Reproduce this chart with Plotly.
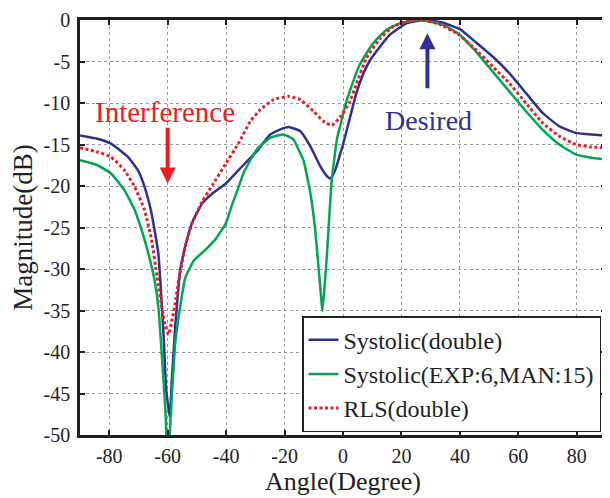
import plotly.graph_objects as go

# ---- data ----
blue_angle = [-90, -84, -79.4, -73.6, -70.2, -67.9, -65.5, -63.2, -62.5, -61.4, -60.5, -59.3,
              -58.5, -57.4, -55.7, -54.0, -51.7, -48.2, -44.7, -40.1, -35.5, -29.5, -24.9,
              -21.6, -18.6, -14.6, -11.2, -7.8, -5.5, -4.4, -3.3, -2.2, -1.0, 0.0, 2.5, 4.5,
              6.8, 9.0, 11.4, 16.0, 21.7, 28.0, 34.0, 40.0, 45.5, 51.2, 56.9, 62.6, 68.3,
              74.0, 79.7, 85.0, 90.0]
blue_db = [-13.9, -14.3, -14.9, -16.5, -18.1, -20.1, -23.3, -28.1, -31.5, -38.0, -44.5, -47.8,
           -42.9, -36.9, -30.1, -27.3, -24.5, -22.1, -20.9, -19.7, -18.0, -15.8, -13.8,
           -13.2, -12.9, -13.4, -15.2, -17.6, -18.8, -19.1, -18.6, -17.6, -16.2, -15.0, -11.6, -8.9,
           -6.6, -5.0, -3.8, -1.8, -0.4, 0.0, -0.3, -1.1, -2.7, -4.4, -6.4, -8.8, -11.2,
           -12.8, -13.6, -13.8, -13.9]

green_angle = [-90, -84, -79.4, -74.8, -71.3, -67.9, -65.5, -64.4, -63.1, -61.9, -60.8, -59.9,
               -59.3, -58.5, -57.4, -55.7, -54.0, -51.1, -47.1, -43.6, -40.1, -37.8, -35.5,
               -34.0, -29.5, -24.9, -20.3, -16.9, -14.7, -13.5, -11.2, -9.6, -8.4, -7.6, -7.07,
               -6.2, -5.4, -4.7, -3.9, -2.1, -1.0, 1.0, 2.3, 5.7, 10.3, 14.8, 19.4, 25.0, 30.0,
               35.0, 40.0, 45.5, 51.2, 56.9, 62.6, 68.3, 74.0, 79.7, 85.0, 90.0]
green_db = [-16.9, -17.5, -18.5, -20.5, -22.9, -26.5, -29.7, -31.5, -34.9, -40.9, -46.9, -54.0,
            -50.0, -44.9, -38.9, -34.5, -31.1, -29.0, -27.7, -26.4, -24.5, -22.1, -19.9,
            -18.4, -15.6, -14.2, -13.8, -14.4, -16.0, -16.9, -20.8, -25.0, -29.7, -32.9, -35.1,
            -31.7, -27.7, -23.7, -19.5, -14.4, -12.8, -10.0, -8.6, -5.4, -2.8, -1.2, -0.4, 0.0, -0.2,
            -0.7, -1.8, -3.8, -6.2, -8.6, -11.0, -13.2, -15.0, -16.2, -16.6, -16.8]

red_angle = [-90, -84, -79.4, -74.8, -71.3, -67.9, -65.5, -63.6, -61.9, -60.8, -59.7, -58.5,
             -57.4, -56.2, -54.0, -51.7, -48.2, -44.7, -40.1, -35.5, -31.7, -28.3, -23.8,
             -18.6, -14.6, -10.1, -6.7, -3.8, -1.0, 2.1, 4.5, 8.0, 12.5, 17.1, 21.7, 27.0,
             33.0, 39.8, 45.5, 51.2, 56.9, 62.6, 68.3, 74.0, 79.7, 85.0, 90.0]
red_db = [-15.4, -15.9, -16.5, -18.1, -20.1, -22.9, -26.5, -31.0, -34.9, -36.9, -37.9, -36.1,
          -34.1, -31.3, -27.3, -24.5, -21.9, -19.9, -17.3, -14.7, -12.2, -10.8, -9.6,
          -9.2, -9.6, -11.0, -12.2, -12.7, -11.7, -10.0, -7.8, -4.6, -2.3, -0.8, -0.2, 0.0,
          -0.5, -1.8, -3.6, -5.6, -7.6, -10.0, -12.4, -14.0, -15.0, -15.3, -15.4]

series_names = ["Systolic(double)", "Systolic(EXP:6,MAN:15)", "RLS(double)"]
x_ticks = [-80, -60, -40, -20, 0, 20, 40, 60, 80]
y_ticks = [-50, -45, -40, -35, -30, -25, -20, -15, -10, -5, 0]

BLUE = "#2E3192"
GREEN = "#00A651"
RED = "#ED1C24"
INK = "#231F20"
FONT = "Liberation Serif"

fig = go.Figure()
fig.add_trace(go.Scatter(x=blue_angle, y=blue_db, mode="lines", name=series_names[0],
                         line=dict(color=BLUE, width=2.5, shape="spline", smoothing=0.4)))
fig.add_trace(go.Scatter(x=green_angle, y=green_db, mode="lines", name=series_names[1],
                         line=dict(color=GREEN, width=2.5, shape="spline", smoothing=0.4)))
fig.add_trace(go.Scatter(x=red_angle, y=red_db, mode="lines", name=series_names[2],
                         line=dict(color=RED, width=3, dash="3px,2.5px", shape="spline", smoothing=0.4)))

axis_common = dict(
    showline=True, linecolor=INK, linewidth=2.5, mirror="ticks",
    ticks="inside", ticklen=5, tickwidth=1.5, tickcolor=INK,
    showgrid=True, gridcolor="#9A9A9A", gridwidth=1, griddash="dot",
    zeroline=False, tickfont=dict(family=FONT, size=20, color=INK),
    automargin=False,
)

fig.update_xaxes(range=[-90, 90], tickvals=x_ticks, ticktext=[str(v) for v in x_ticks],
                 title=dict(text="Angle(Degree)", font=dict(family=FONT, size=26, color=INK), standoff=2),
                 ticklabelstandoff=1, **axis_common)
fig.update_yaxes(range=[-50, 0], tickvals=y_ticks, ticktext=[str(v) for v in y_ticks],
                 title=dict(text="Magnitude(dB)", font=dict(family=FONT, size=27, color=INK), standoff=6),
                 ticklabelstandoff=3, **axis_common)

fig.add_annotation(x=-61, y=-11.1, text="Interference", showarrow=False,
                   font=dict(family=FONT, size=29, color=RED), xanchor="center", yanchor="middle")
fig.add_annotation(x=29.4, y=-12.1, text="Desired", showarrow=False,
                   font=dict(family=FONT, size=28, color=BLUE), xanchor="center", yanchor="middle")
fig.add_annotation(x=-60, y=-19.7, ax=-60, ay=-12.8, axref="x", ayref="y", text="",
                   showarrow=True, arrowhead=2, arrowsize=0.8, arrowwidth=4, arrowcolor=RED, standoff=0)
fig.add_annotation(x=28.9, y=-1.6, ax=28.9, ay=-8.4, axref="x", ayref="y", text="",
                   showarrow=True, arrowhead=2, arrowsize=0.8, arrowwidth=4, arrowcolor=BLUE, standoff=0)

# the page puts the figure 8px in from the window's top-left corner
fig.update_layout(
    width=610, height=498, autosize=False,
    margin=dict(l=72, r=12, t=12, b=71),
    paper_bgcolor="white", plot_bgcolor="white",
    showlegend=True,
    legend=dict(x=0.9905, xanchor="right", y=0.007, yanchor="bottom",
                bgcolor="white", bordercolor=INK, borderwidth=1.5,
                font=dict(family=FONT, size=24, color=INK)),
)

fig.write_html("out.html")
